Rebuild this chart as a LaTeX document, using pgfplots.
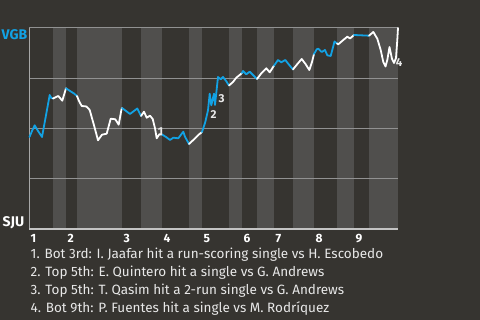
\documentclass[border=0pt]{standalone}
\usepackage{pgfplots}
\pgfplotsset{compat=1.18}
\usepackage{fontspec}
\setmainfont{Fira Sans}
\definecolor{bg}{RGB}{54,52,48}
\definecolor{band}{RGB}{80,79,77}
\definecolor{gridc}{RGB}{145,145,145}
\definecolor{axc}{RGB}{195,195,195}
\definecolor{vgb}{RGB}{18,162,228}
\definecolor{txt}{RGB}{232,232,232}
\begin{document}
\begin{tikzpicture}[x=1pt,y=1pt]
\fill[bg] (0,0) rectangle (480,320);
\useasboundingbox (0,0) rectangle (480,320);
\begin{axis}[
  at={(29pt,91pt)}, anchor=south west,
  width=369pt, height=201pt, scale only axis,
  xmin=29, xmax=398, ymin=0, ymax=201,
  axis line style={draw=none},
  ytick={50.25,100.5,150.75,201}, yticklabels={},
  ymajorgrids, grid style={gridc, line width=1pt},
  xtick={29,66,122,162,202,242,274,314,354},
  xticklabels={1,2,3,4,5,6,7,8,9},
  major tick length=0pt,
  xticklabel style={anchor=north west, inner sep=0pt, yshift=-5pt, xshift=1.5pt,
     font=\fontsize{12}{13}\selectfont\bfseries, text=white},
  clip=false,
  axis on top=false,
]
% bottom half-inning bands
\addplot[fill=band, draw=none] coordinates {(53,0)(66,0)(66,201)(53,201)} -- cycle;
\addplot[fill=band, draw=none] coordinates {(77,0)(122,0)(122,201)(77,201)} -- cycle;
\addplot[fill=band, draw=none] coordinates {(141,0)(162,0)(162,201)(141,201)} -- cycle;
\addplot[fill=band, draw=none] coordinates {(189,0)(202,0)(202,201)(189,201)} -- cycle;
\addplot[fill=band, draw=none] coordinates {(229,0)(242,0)(242,201)(229,201)} -- cycle;
\addplot[fill=band, draw=none] coordinates {(257,0)(274,0)(274,201)(257,201)} -- cycle;
\addplot[fill=band, draw=none] coordinates {(293,0)(314,0)(314,201)(293,201)} -- cycle;
\addplot[fill=band, draw=none] coordinates {(337,0)(354,0)(354,201)(337,201)} -- cycle;
\addplot[fill=band, draw=none] coordinates {(369,0)(398,0)(398,201)(369,201)} -- cycle;
% grid lines redrawn over bands
\addplot[gridc, line width=1pt] coordinates {(29,50.25)(398,50.25)};
\addplot[gridc, line width=1pt] coordinates {(29,100.5)(398,100.5)};
\addplot[gridc, line width=1pt] coordinates {(29,150.75)(398,150.75)};
\addplot[gridc, line width=1pt] coordinates {(29,201)(398,201)};
% axis lines
\addplot[gridc!80!white, line width=1pt] coordinates {(29,0)(29,201)};
\addplot[axc, line width=1.2pt] coordinates {(29,0)(398,0)};
% win probability line, by half-inning
\pgfplotsset{wp/.style={line width=1.8pt, line join=round, line cap=round, mark=none}}
\addplot[wp, vgb] coordinates {(29.5,92)(32,98)(34.7,103.7)(38,98)(42,92)(45.5,111)(49.7,134)(51.3,131)(53,130.5)};
\addplot[wp, white] coordinates {(53,130.5)(58.3,133)(62.3,128.3)(66,140.7)};
\addplot[wp, vgb] coordinates {(66,140.7)(70,138)(74,135.5)(77,133)};
\addplot[wp, white] coordinates {(77,133)(79,128)(81.7,123)(86.5,122.5)(89.7,119)(94,103.7)(98,88.7)(102,94.3)(106.7,95.3)(110.7,110.3)(115.3,109.7)(118.7,104.3)(121.3,118.7)(122,121)};
\addplot[wp, vgb] coordinates {(122,121)(126,118)(130,115)(134,118)(137.3,120.5)(141,113)};
\addplot[wp, white] coordinates {(141,113)(144,117.3)(146.7,111.3)(150,113.3)(152.7,110)(155,100.7)(156.7,90.7)(159.3,94.7)(162,94.5)};
\addplot[wp, vgb] coordinates {(162,94.5)(166,92)(170,89)(173.3,91.3)(178.3,90.7)(183.3,97.3)(185,92.3)(189,85)};
\addplot[wp, white] coordinates {(189,85)(193.3,89)(198.3,94)(202,97)};
\addplot[wp, vgb] coordinates {(202,97)(205.3,107)(208,118.7)(209.7,135.3)(211.3,123.7)(214,135.3)(215,124)(218,152)(220.7,149.7)(223,152)(226.3,147.7)(229,143.5)};
\addplot[wp, white] coordinates {(229,143.5)(233,147)(236.3,151.3)(239.7,154)(242,156)};
\addplot[wp, vgb] coordinates {(242,156)(243,158)(246.3,154.7)(249.7,157.3)(253,154)(257,150)};
\addplot[wp, white] coordinates {(257,150)(261.3,155.7)(266.3,160.7)(269.7,156.7)(274,163.3)};
\addplot[wp, vgb] coordinates {(274,163.3)(278,169)(281.3,166.7)(285.3,169)(288.7,164.7)(293,159.5)};
\addplot[wp, white] coordinates {(293,159.5)(297,164.5)(301.7,170)(305.5,165)(309.3,159)(312,167)(314,175)};
\addplot[wp, vgb] coordinates {(314,175)(316.7,179.7)(318.3,180.3)(321.7,177)(325,179)(327.3,173.7)(330.7,173)(334.5,187.5)(337,185.5)};
\addplot[wp, white] coordinates {(337,185.5)(338.3,184.7)(343.3,189)(347.3,192.3)(350,190.5)(354,194)};
\addplot[wp, vgb] coordinates {(354,194)(369,193.3)};
\addplot[wp, white] coordinates {(369,193.3)(373.3,197)(377.3,190.3)(380.7,179)(383.3,167)(385.5,162.5)(387.3,169)(389.5,182)(392,170)(394,166)(396,171)(397.3,189)(398,201)};
% event markers
\node[text=txt, font=\fontsize{11.5}{12}\selectfont\bfseries, inner sep=0pt] at (axis cs:160.5,97.3) {1};
\node[text=txt, font=\fontsize{11.5}{12}\selectfont\bfseries, inner sep=0pt] at (axis cs:213.5,114.5) {2};
\node[text=txt, font=\fontsize{11.5}{12}\selectfont\bfseries, inner sep=0pt] at (axis cs:221.5,130) {3};
\node[text=txt, font=\fontsize{11.5}{12}\selectfont\bfseries, inner sep=0pt] at (axis cs:399,166) {4};
\end{axis}
\node[anchor=base west, inner sep=0pt, text=vgb, font=\fontsize{14}{16}\selectfont\bfseries] at (1.5,280) {VGB};
\node[anchor=base west, inner sep=0pt, text=white, font=\fontsize{14}{16}\selectfont\bfseries] at (2.5,93.3) {SJU};
\begin{scope}[every node/.style={anchor=base west, inner sep=0pt, text=txt, font=\fontsize{13.5}{15}\selectfont}]
\node at (30.5,61) {1. Bot 3rd: I. Jaafar hit a run-scoring single vs H. Escobedo};
\node at (30.5,43) {2. Top 5th: E. Quintero hit a single vs G. Andrews};
\node at (30.5,25.2) {3. Top 5th: T. Qasim hit a 2-run single vs G. Andrews};
\node at (30.5,7.5) {4. Bot 9th: P. Fuentes hit a single vs M. Rodríquez};
\end{scope}
\end{tikzpicture}
\end{document}
